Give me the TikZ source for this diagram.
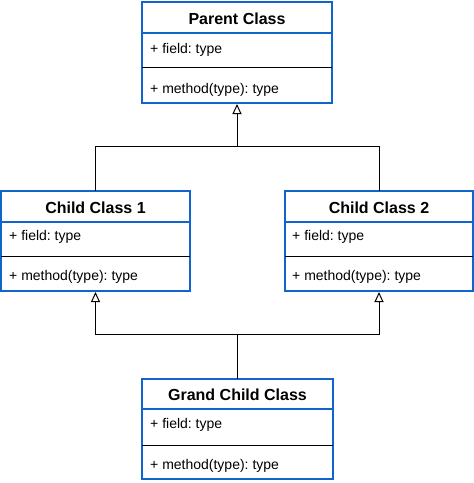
\documentclass[tikz,border=0pt]{standalone}
\usepackage{fontspec}
\setmainfont{Liberation Sans}
\usetikzlibrary{arrows.meta}
\definecolor{umlblue}{RGB}{16,100,206}
\tikzset{
  classbox/.style={draw=umlblue, line width=2pt, rectangle, inner sep=0pt, outer sep=0pt, anchor=north west, fill=white},
  sepline/.style={draw=umlblue, line width=1.3pt},
  divline/.style={draw=black, line width=1pt},
  titletext/.style={font=\fontsize{16}{19}\selectfont\bfseries\frenchspacing, inner sep=0pt},
  attrtext/.style={font=\fontsize{14}{17}\selectfont\frenchspacing, inner sep=0pt, anchor=west},
  inherit/.style={draw=black, line width=1pt, -{Triangle[open, length=10pt, width=9pt]}},
  plain/.style={draw=black, line width=1pt}
}
\begin{document}
\begin{tikzpicture}[x=1pt, y=-1pt]
\useasboundingbox (0,0) rectangle (474,483);

% Parent class
\node[classbox, minimum width=190pt, minimum height=101pt] (P) at (142,2) {};
\draw[sepline] ([yshift=-31pt]P.north west) -- ([yshift=-31pt]P.north east);
\draw[divline] ([yshift=-65pt]P.north west) -- ([yshift=-65pt]P.north east);
\node[titletext] (Pt) at ([yshift=-16.5pt]P.north) {Parent Class};
\node[attrtext] (Pf) at ([xshift=8pt,yshift=-48pt]P.north west) {+ field: type};
\node[attrtext] (Pm) at ([xshift=8pt,yshift=-88pt]P.north west) {+ method(type): type};

% Child class 1
\node[classbox, minimum width=189pt, minimum height=100pt] (C1) at (1,191) {};
\draw[sepline] ([yshift=-31pt]C1.north west) -- ([yshift=-31pt]C1.north east);
\draw[divline] ([yshift=-65pt]C1.north west) -- ([yshift=-65pt]C1.north east);
\node[titletext] (C1t) at ([yshift=-16.5pt]C1.north) {Child Class 1};
\node[attrtext] (C1f) at ([xshift=8pt,yshift=-46pt]C1.north west) {+ field: type};
\node[attrtext] (C1m) at ([xshift=8pt,yshift=-86pt]C1.north west) {+ method(type): type};

% Child class 2
\node[classbox, minimum width=188pt, minimum height=100pt] (C2) at (285,191) {};
\draw[sepline] ([yshift=-31pt]C2.north west) -- ([yshift=-31pt]C2.north east);
\draw[divline] ([yshift=-65pt]C2.north west) -- ([yshift=-65pt]C2.north east);
\node[titletext] (C2t) at ([yshift=-16.5pt]C2.north) {Child Class 2};
\node[attrtext] (C2f) at ([xshift=7pt,yshift=-46pt]C2.north west) {+ field: type};
\node[attrtext] (C2m) at ([xshift=7pt,yshift=-86pt]C2.north west) {+ method(type): type};

% Grand child class
\node[classbox, minimum width=191pt, minimum height=100pt] (G) at (142,379) {};
\draw[sepline] ([yshift=-30pt]G.north west) -- ([yshift=-30pt]G.north east);
\draw[divline] ([yshift=-66pt]G.north west) -- ([yshift=-66pt]G.north east);
\node[titletext] (Gt) at ([yshift=-16pt]G.north) {Grand Child Class};
\node[attrtext] (Gf) at ([xshift=8pt,yshift=-46pt]G.north west) {+ field: type};
\node[attrtext] (Gm) at ([xshift=8pt,yshift=-87pt]G.north west) {+ method(type): type};

% Connectors
\coordinate (jP) at (P.south |- 0,146);
\coordinate (jG) at (G.north |- 0,334);
\draw[plain] (C1.north) |- (jP);
\draw[plain] (C2.north) |- (jP);
\draw[inherit] (jP) -- ([yshift=-1pt]P.south);
\draw[plain] (G.north) -- (jG);
\draw[inherit] (jG) -| ([yshift=-1pt]C1.south);
\draw[inherit] (jG) -| ([yshift=-1pt]C2.south);
\end{tikzpicture}
\end{document}
